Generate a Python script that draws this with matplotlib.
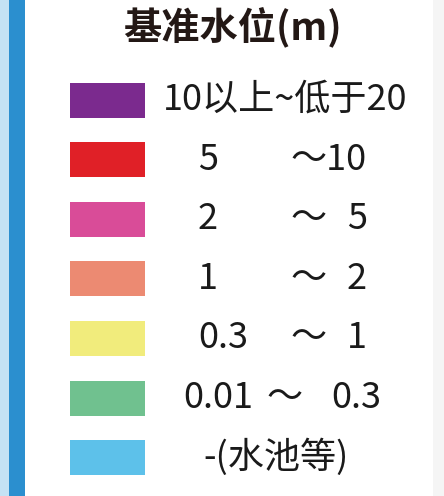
import matplotlib
matplotlib.use("Agg")
import matplotlib.pyplot as plt
from matplotlib.patches import Rectangle

# ---- data ----
title = "基准水位(m)"
colors = ["#7b2a8e", "#e02027", "#d94c98", "#ec8a72", "#f1ec7c", "#70c18f", "#5dc1ea"]
lower = ["10以上~低于20", "5", "2", "1", "0.3", "0.01", "-(水池等)"]
sep = ["", "～10", "～", "～", "～", "～", ""]
upper = ["", "", "5", "2", "1", "0.3", ""]

plt.rcParams['font.family'] = ['Noto Sans CJK SC', 'DejaVu Sans']

W, H = 444, 496
fig = plt.figure(figsize=(W / 100, H / 100), dpi=100)
ax = fig.add_axes([0, 0, 1, 1])
ax.set_xlim(0, W)
ax.set_ylim(H, 0)
ax.axis("off")

# frame decorations
ax.add_patch(Rectangle((0, 0), 9, H, color="#c4e2f4", lw=0))
ax.add_patch(Rectangle((9, 0), 16, H, color="#2b8fcf", lw=0))
ax.add_patch(Rectangle((433, 0), 11, H, color="#f5f5f5", lw=0))

ax.text(232, 27, title, ha="center", va="center", fontsize=27.5,
        fontweight="bold", color="#231815")

y0, dy = 100, 59.6
ys = [y0 + i * dy for i in range(len(colors))]
ax.barh(ys, [75] * len(ys), left=70, height=35, color=colors)

fs = 26
tc = "#1a1a1a"
kw = dict(va="center", fontsize=fs, color=tc, fontweight="medium")
for i, y in enumerate(ys):
    if i == 0:
        ax.text(285, y, lower[i], ha="center", **kw)
    elif i == 6:
        ax.text(276, y, lower[i], ha="center", **kw)
    elif i == 5:
        ax.text(218, y, lower[i], ha="center", **kw)
        ax.text(285, y, sep[i], ha="center", **kw)
        ax.text(356, y, upper[i], ha="center", **kw)
    else:
        ax.text(198, y, lower[i], ha="left", **kw)
        ax.text(290, y, sep[i], ha="left", **kw)
        if upper[i]:
            ax.text(347, y, upper[i], ha="left", **kw)

fig.savefig("out.png", dpi=100)
